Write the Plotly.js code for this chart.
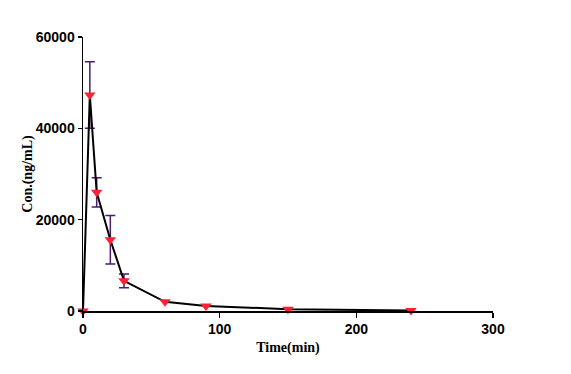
<!DOCTYPE html>
<html>
<head>
<meta charset="utf-8">
<script src="https://cdn.plot.ly/plotly-3.0.1.min.js"></script>
<style>html,body{margin:0;padding:0;background:#fff;}#chart{width:571px;height:374px;}</style>
</head>
<body>
<div id="chart"></div>
<script>
const timeMin = [0, 5, 10, 20, 30, 60, 90, 150, 240];
const concMean = [0, 47300, 26000, 15600, 6600, 2000, 1100, 400, 100];
const errTime = [5, 10, 20, 30];
const errMean = [47300, 26000, 15600, 6600];
const errSD = [7300, 3200, 5300, 1500];
const xTicks = [0, 100, 200, 300];
const yTicks = [0, 20000, 40000, 60000];

const errTrace = {
  x: errTime, y: errMean, type: 'scatter', mode: 'markers',
  marker: {size: 1, opacity: 0},
  error_y: {type: 'data', array: errSD, visible: true, color: '#4b1d6b', thickness: 1.5, width: 5},
  hoverinfo: 'skip', showlegend: false, cliponaxis: false
};
const mainTrace = {
  x: timeMin, y: concMean, type: 'scatter', mode: 'lines+markers',
  line: {color: '#000000', width: 2},
  marker: {symbol: 'triangle-down', size: 10, color: '#ff2030'},
  showlegend: false, cliponaxis: false
};
const layout = {
  width: 571, height: 374,
  margin: {l: 83, r: 78, t: 37, b: 63},
  paper_bgcolor: '#ffffff', plot_bgcolor: '#ffffff',
  xaxis: {
    range: [0, 300], tickvals: xTicks, ticktext: xTicks.map(String),
    showgrid: false, zeroline: false, showline: true, linecolor: '#000', linewidth: 1.5,
    ticks: 'outside', ticklen: 5, tickwidth: 1.5, tickcolor: '#000',
    tickfont: {family: 'Liberation Sans, Arial', size: 14, color: '#000', weight: 'bold'},
    title: {text: '<b>Time(min)</b>', font: {family: 'Liberation Serif, Times New Roman', size: 14, color: '#000'}, standoff: 6}
  },
  yaxis: {
    range: [0, 60000], tickvals: yTicks, ticktext: yTicks.map(String),
    showgrid: false, zeroline: false, showline: true, linecolor: '#000', linewidth: 1.5,
    ticks: 'outside', ticklen: 4, tickwidth: 1.5, tickcolor: '#000',
    tickfont: {family: 'Liberation Sans, Arial', size: 14, color: '#000', weight: 'bold'},
    title: {text: '<b>Con.(ng/mL)</b>', font: {family: 'Liberation Serif, Times New Roman', size: 14, color: '#000'}, standoff: 0}
  }
};
Plotly.newPlot('chart', [errTrace, mainTrace], layout, {displayModeBar: false, staticPlot: true});
</script>
</body>
</html>
